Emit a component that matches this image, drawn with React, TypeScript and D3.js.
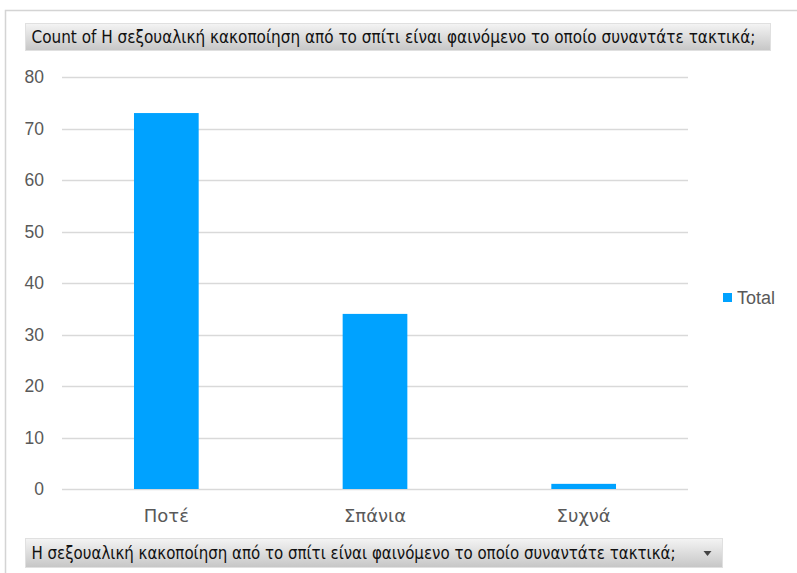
import React, { useEffect, useRef } from "react";
import { select, scaleLinear, scaleBand, range } from "d3";

const categories = ["Ποτέ", "Σπάνια", "Συχνά"];
const totals = [73, 34, 1];
const yTicks = range(0, 81, 10);
const fieldName =
  "Η σεξουαλική κακοποίηση από το σπίτι είναι φαινόμενο το οποίο συναντάτε τακτικά;";
const seriesName = "Total";

const W = 797;
const H = 573;

const App = () => {
  const svgRef = useRef<SVGSVGElement>(null);

  useEffect(() => {
    const svg = select(svgRef.current);
    svg.selectAll("*").remove();

    const defs = svg.append("defs");
    const grad = defs
      .append("linearGradient")
      .attr("id", "btn")
      .attr("x1", 0)
      .attr("y1", 0)
      .attr("x2", 0)
      .attr("y2", 1);
    grad.append("stop").attr("offset", "0%").attr("stop-color", "#f4f4f4");
    grad.append("stop").attr("offset", "100%").attr("stop-color", "#c6c6c6");

    // frame
    svg
      .append("path")
      .attr("d", `M5.5,${H} V10.5 H${W}`)
      .attr("fill", "none")
      .attr("stroke", "#d4d4d4")
      .attr("stroke-width", 1.5);

    const x = scaleBand()
      .domain(categories)
      .range([62, 688])
      .paddingInner(0.69)
      .paddingOuter(0.345);
    const y = scaleLinear().domain([0, 80]).range([489, 77]);

    // gridlines
    svg
      .append("g")
      .selectAll("line")
      .data(yTicks)
      .enter()
      .append("line")
      .attr("x1", 62)
      .attr("x2", 688)
      .attr("y1", (d) => Math.round(y(d)) + 0.5)
      .attr("y2", (d) => Math.round(y(d)) + 0.5)
      .attr("stroke", "#d9d9d9")
      .attr("stroke-width", 1.5);

    // y labels
    svg
      .append("g")
      .selectAll("text")
      .data(yTicks)
      .enter()
      .append("text")
      .attr("x", 44)
      .attr("y", (d) => y(d))
      .attr("dy", "0.35em")
      .attr("text-anchor", "end")
      .attr("font-family", "'Liberation Sans', Arial, sans-serif")
      .attr("font-size", 17.5)
      .attr("fill", "#595959")
      .text((d) => d);

    // bars
    svg
      .append("g")
      .selectAll("rect")
      .data(totals)
      .enter()
      .append("rect")
      .attr("x", (d, i) => x(categories[i]) as number)
      .attr("width", x.bandwidth())
      .attr("y", (d) => y(d))
      .attr("height", (d) => y(0) - y(d))
      .attr("fill", "#00a2ff");

    // x labels
    svg
      .append("g")
      .selectAll("text")
      .data(categories)
      .enter()
      .append("text")
      .attr("x", (d) => (x(d) as number) + x.bandwidth() / 2)
      .attr("y", 522)
      .attr("text-anchor", "middle")
      .attr("font-family", "'DejaVu Sans', sans-serif")
      .attr("font-size", 18)
      .attr("fill", "#595959")
      .text((d) => d);

    // legend
    const lg = svg.append("g").attr("transform", "translate(723,293)");
    lg.append("rect").attr("width", 9).attr("height", 9).attr("fill", "#00a2ff");
    lg.append("text")
      .attr("x", 14)
      .attr("y", 4.5)
      .attr("dy", "0.35em")
      .attr("font-family", "'Liberation Sans', Arial, sans-serif")
      .attr("font-size", 18)
      .attr("fill", "#595959")
      .text(seriesName);

    // field buttons
    const button = (
      bx: number,
      by: number,
      bw: number,
      bh: number,
      label: string,
      tl: number,
      arrow: boolean
    ) => {
      const g = svg.append("g");
      g.append("rect")
        .attr("x", bx)
        .attr("y", by)
        .attr("width", bw)
        .attr("height", bh)
        .attr("fill", "url(#btn)")
        .attr("stroke", "#e0e0e0")
        .attr("stroke-width", 1);
      g.append("text")
        .attr("x", bx + 6)
        .attr("y", by + bh / 2)
        .attr("dy", "0.35em")
        .attr("font-family", "'Liberation Sans Narrow', 'DejaVu Sans Condensed', sans-serif")
        .attr("font-size", 17)
        .attr("fill", "#111")
        .attr("textLength", tl)
        .attr("lengthAdjust", "spacingAndGlyphs")
        .text(label);
      if (arrow) {
        const ax = bx + bw - 15;
        const ay = by + bh / 2;
        g.append("path")
          .attr("d", `M${ax - 4},${ay - 2} L${ax + 4},${ay - 2} L${ax},${ay + 3} Z`)
          .attr("fill", "#444");
      }
    };

    button(25.5, 23.5, 745, 27, "Count of " + fieldName, 724, false);
    button(25.5, 538.5, 697, 29, fieldName, 644, true);
  }, []);

  return (
    <svg
      ref={svgRef}
      width={W}
      height={H}
      style={{ position: "absolute", left: 0, top: 0, background: "#fff" }}
    ></svg>
  );
};

export default App;
